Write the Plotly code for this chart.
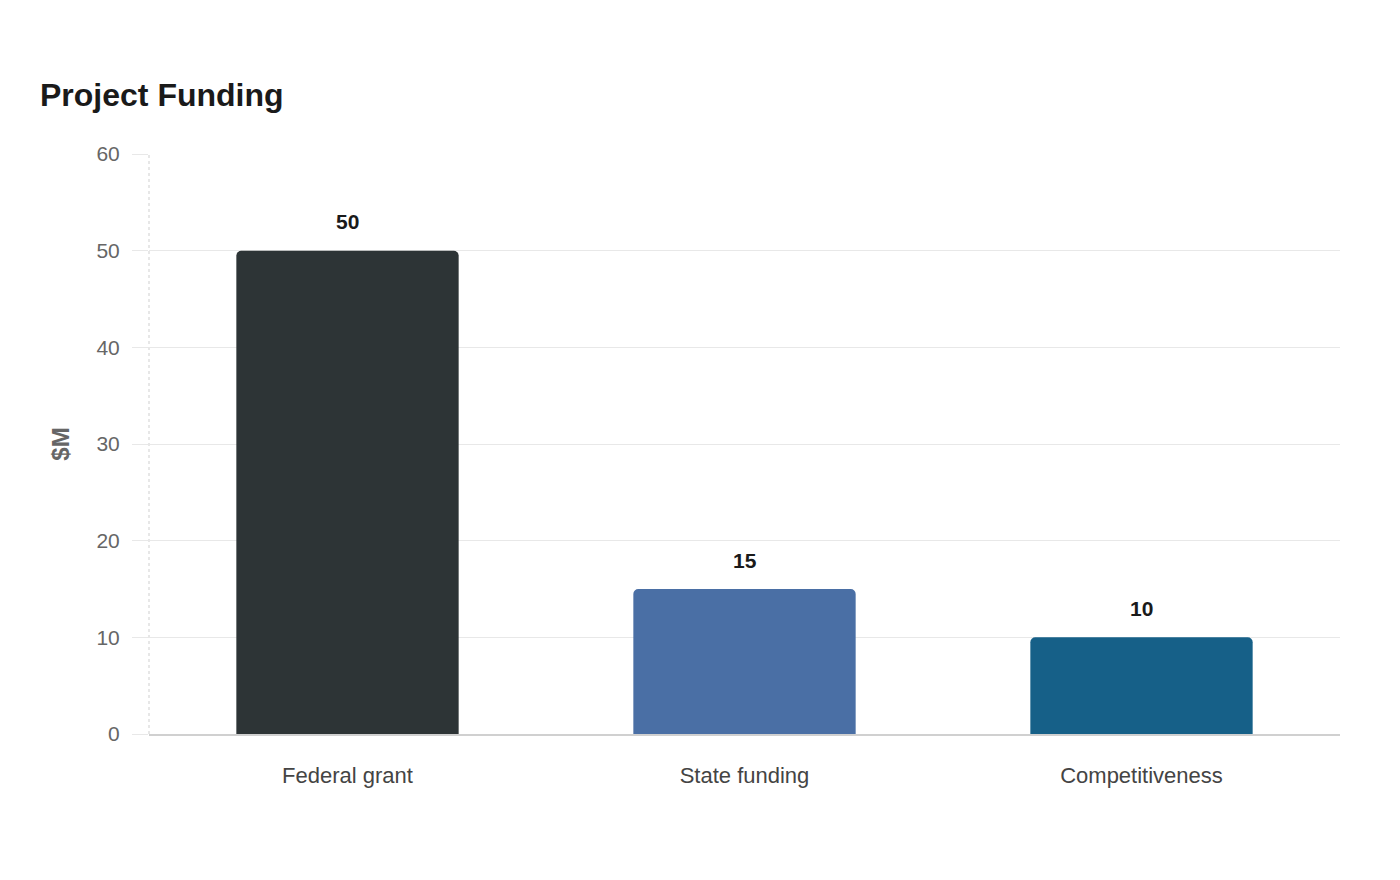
import plotly.graph_objects as go

categories = ["Federal grant", "State funding", "Competitiveness"]
values = [50, 15, 10]
colors = ["#2d3436", "#4a6fa5", "#166088"]
y_ticks = [0, 10, 20, 30, 40, 50, 60]

fig = go.Figure()
fig.add_trace(go.Bar(
    x=categories, y=values,
    marker=dict(color=colors, cornerradius=5, line=dict(width=0)),
    hoverinfo="skip",
))

for c, v in zip(categories, values):
    fig.add_annotation(x=c, y=v, text=f"<b>{v}</b>", showarrow=False,
                       yshift=29, xanchor="center", yanchor="middle",
                       font=dict(family="Liberation Sans, Arial, sans-serif", size=21, color="#1a1a1a"))

fig.add_shape(type="line", xref="paper", yref="paper", x0=0, x1=0, y0=0, y1=1,
              line=dict(color="#cfcfcf", width=1, dash="dot"), layer="below")

fig.update_layout(
    width=1400, height=880,
    margin=dict(l=149, r=60, t=154, b=146),
    paper_bgcolor="white", plot_bgcolor="white",
    bargap=0.44,
    showlegend=False,
    font=dict(family="Liberation Sans, Arial, sans-serif"),
    title=dict(text="<b>Project Funding</b>", x=40/1400, xref="container", xanchor="left",
               y=1-95/880, yref="container", yanchor="middle",
               font=dict(size=32, color="#1a1a1a")),
    xaxis=dict(showgrid=False, showline=True, linecolor="#d0d0d0", linewidth=2,
               ticks="", ticklabelstandoff=21,
               tickfont=dict(size=22, color="#444444")),
    yaxis=dict(range=[0, 60], tickvals=y_ticks, showgrid=True, gridcolor="#e8e8e8", gridwidth=1,
               zeroline=False, showline=False,
               ticks="outside", ticklen=16, tickcolor="#e8e8e8",
               ticklabelstandoff=8,
               tickfont=dict(size=21, color="#666666"),
               title=dict(text="<b>$M</b>", standoff=20, font=dict(size=24, color="#666666"))),
)

fig.write_html("out.html")
